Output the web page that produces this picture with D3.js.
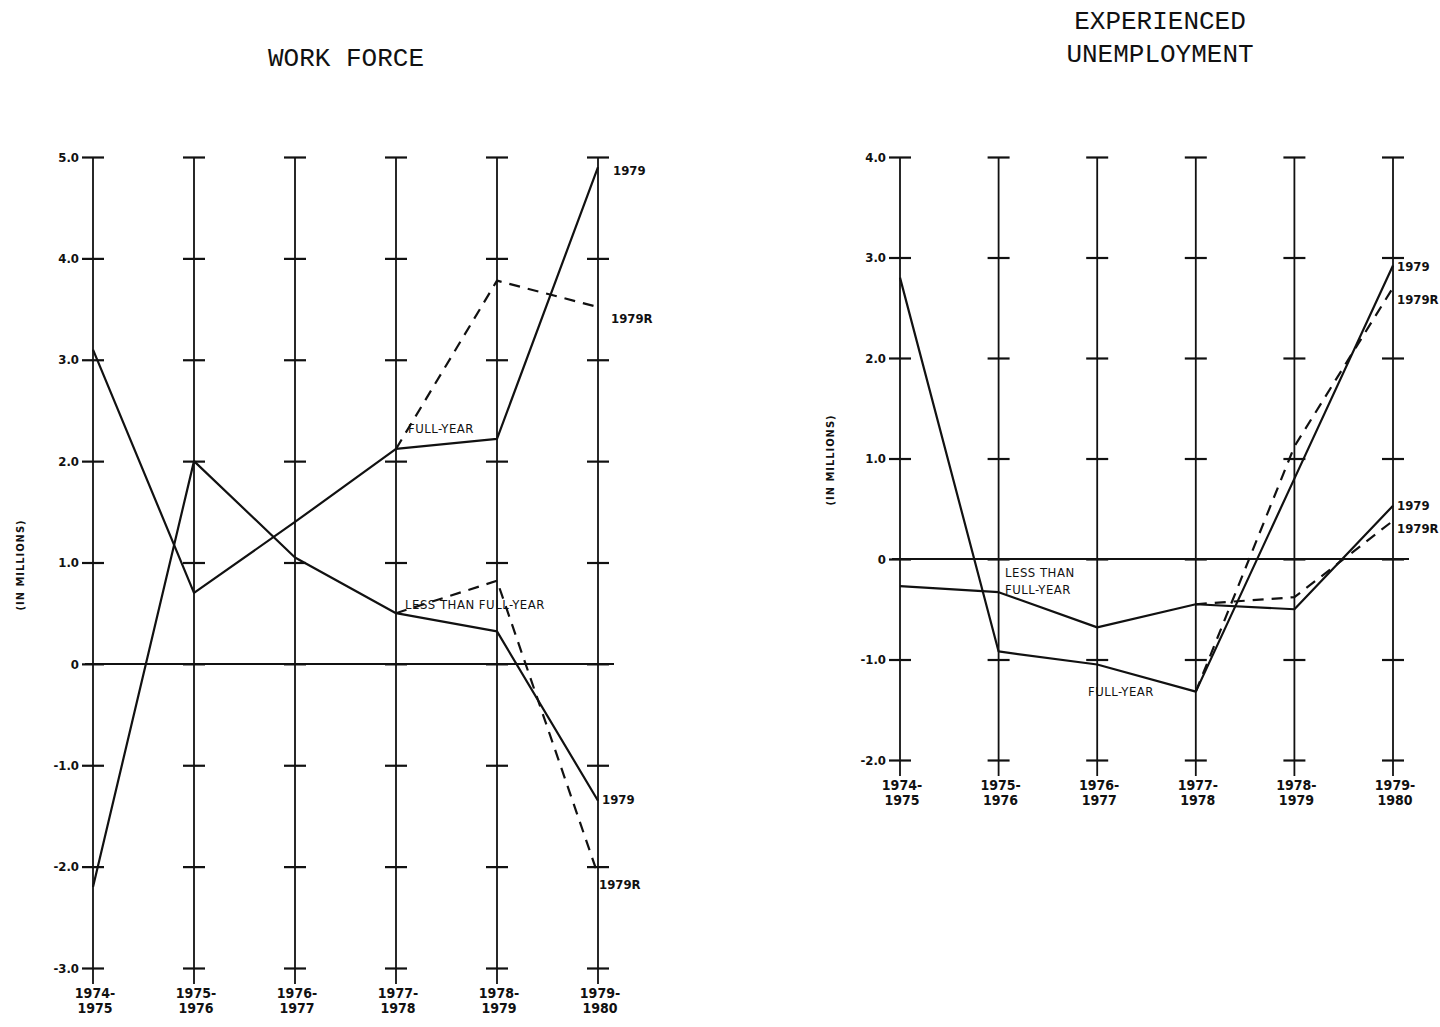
<!DOCTYPE html>
<html>
<head>
<meta charset="utf-8">
<script src="https://cdn.jsdelivr.net/npm/d3@7"></script>
<style>
  body { margin: 0; background: #fff; }
  svg { display: block; }
  text { fill: #111; }
</style>
</head>
<body>
<svg id="chart" width="1440" height="1027"></svg>
<script>
// periods shared by both panels
const periods = ['1974-1975', '1975-1976', '1976-1977', '1977-1978', '1978-1979', '1979-1980'];

// Work force (millions)
const wfTicks = [-3, -2, -1, 0, 1, 2, 3, 4, 5];
const wfFullYear = [3.1, 0.7, 1.4, 2.12, 2.22, 4.9];
const wfFullYearR = [null, null, null, 2.12, 3.78, 3.52];
const wfLessThan = [-2.2, 2.0, 1.05, 0.5, 0.32, -1.35];
const wfLessThanR = [null, null, null, 0.5, 0.82, -2.08];

// Experienced unemployment (millions)
const unTicks = [-2, -1, 0, 1, 2, 3, 4];
const unFullYear = [2.8, -0.92, -1.05, -1.32, 0.8, 2.92];
const unFullYearR = [null, null, null, -1.32, 1.12, 2.7];
const unLessThan = [-0.27, -0.33, -0.68, -0.45, -0.5, 0.53];
const unLessThanR = [null, null, null, -0.45, -0.38, 0.38];

const svg = d3.select('#chart');
const labelFont = '"DejaVu Sans Condensed", "DejaVu Sans", sans-serif';
const titleFont = '"Liberation Mono", "DejaVu Sans Mono", monospace';

function drawPanel(cfg) {
  const x = d3.scalePoint().domain(periods).range(cfg.xRange);
  const y = d3.scaleLinear().domain(d3.extent(cfg.ticks)).range(cfg.yRange);
  const g = svg.append('g');

  // vertical period lines
  g.selectAll('line.period')
    .data(periods)
    .join('line')
    .attr('class', 'period')
    .attr('x1', (d) => x(d))
    .attr('x2', (d) => x(d))
    .attr('y1', y(d3.max(cfg.ticks)))
    .attr('y2', y(d3.min(cfg.ticks)) + 16)
    .attr('stroke', '#111')
    .attr('stroke-width', 1.8);

  // crossbar ticks on every period line
  periods.forEach((p) => {
    const a = g.append('g').attr('transform', `translate(${x(p)},0)`);
    a.call(d3.axisLeft(y).tickValues(cfg.ticks).tickSize(0).tickSizeOuter(0).tickFormat(''));
    a.select('.domain').remove();
    a.selectAll('.tick line').attr('x1', -11).attr('x2', 11).attr('stroke', '#111').attr('stroke-width', 2.2);
  });

  // value labels on the first line
  const lab = g.append('g').attr('transform', `translate(${x(periods[0]) - 12},0)`);
  lab.call(d3.axisLeft(y).tickValues(cfg.ticks).tickSize(0).tickPadding(2)
    .tickFormat((d) => (d === 0 ? '0' : d.toFixed(1))));
  lab.select('.domain').remove();
  lab.selectAll('text')
    .attr('font-family', labelFont)
    .attr('font-weight', 700)
    .attr('font-size', 13)
    .attr('fill', '#111');

  // zero line
  g.append('line')
    .attr('x1', x(periods[0]) - 8)
    .attr('x2', x(periods[periods.length - 1]) + 16)
    .attr('y1', y(0))
    .attr('y2', y(0))
    .attr('stroke', '#111')
    .attr('stroke-width', 2);

  // period labels
  const pl = g.selectAll('text.period')
    .data(periods)
    .join('text')
    .attr('class', 'period')
    .attr('text-anchor', 'middle')
    .attr('font-family', labelFont)
    .attr('font-weight', 700)
    .attr('font-size', 14)
    .attr('transform', (d) => `translate(${x(d) + 2},${y(d3.min(cfg.ticks)) + cfg.periodGap})`);
  pl.append('tspan').attr('x', 0).attr('dy', 0).text((d) => d.split('-')[0] + '-');
  pl.append('tspan').attr('x', 0).attr('dy', 15).text((d) => d.split('-')[1]);

  // y axis title
  g.append('text')
    .attr('transform', `translate(${cfg.unitX},${cfg.unitY}) rotate(-90)`)
    .attr('text-anchor', 'middle')
    .attr('font-family', labelFont)
    .attr('font-weight', 700)
    .attr('font-size', 11)
    .attr('letter-spacing', 1)
    .text('(IN MILLIONS)');

  // title
  const t = g.append('text')
    .attr('text-anchor', 'middle')
    .attr('font-family', titleFont)
    .attr('font-size', 26);
  cfg.title.forEach((line, i) => {
    t.append('tspan').attr('x', cfg.titleX).attr('y', cfg.titleY + i * 33).text(line);
  });

  // series
  const line = d3.line()
    .defined((d) => d !== null)
    .x((d, i) => x(periods[i]))
    .y((d) => y(d));

  cfg.series.forEach((s) => {
    g.append('path')
      .datum(s.values)
      .attr('d', line)
      .attr('fill', 'none')
      .attr('stroke', '#111')
      .attr('stroke-width', 2.2)
      .attr('stroke-linejoin', 'round')
      .attr('stroke-dasharray', s.dashed ? '11,8' : null);
  });

  // annotations
  cfg.notes.forEach((n) => {
    const tx = g.append('text')
      .attr('font-family', labelFont)
      .attr('font-weight', n.bold ? 700 : 400)
      .attr('font-size', n.size || 13)
      .attr('letter-spacing', n.spacing || 0);
    n.text.split('\n').forEach((l, i) => {
      tx.append('tspan').attr('x', n.x).attr('y', n.y + i * 17).text(l);
    });
  });
}

drawPanel({
  xRange: [93, 598],
  yRange: [968, 157],
  ticks: wfTicks,
  periodGap: 30,
  unitX: 24,
  unitY: 565,
  title: ['WORK FORCE'],
  titleX: 346,
  titleY: 66,
  series: [
    { values: wfFullYear },
    { values: wfLessThan },
    { values: wfFullYearR, dashed: true },
    { values: wfLessThanR, dashed: true }
  ],
  notes: [
    { text: '1979', x: 613, y: 175, bold: true },
    { text: '1979R', x: 611, y: 323, bold: true },
    { text: 'FULL-YEAR', x: 408, y: 433, size: 13, spacing: 0.5 },
    { text: 'LESS THAN FULL-YEAR', x: 405, y: 609, size: 13, spacing: 0.5 },
    { text: '1979', x: 602, y: 804, bold: true },
    { text: '1979R', x: 599, y: 889, bold: true }
  ]
});

drawPanel({
  xRange: [900, 1393],
  yRange: [760, 157],
  ticks: unTicks,
  periodGap: 30,
  unitX: 834,
  unitY: 460,
  title: ['EXPERIENCED', 'UNEMPLOYMENT'],
  titleX: 1160,
  titleY: 29,
  series: [
    { values: unFullYear },
    { values: unLessThan },
    { values: unFullYearR, dashed: true },
    { values: unLessThanR, dashed: true }
  ],
  notes: [
    { text: '1979', x: 1397, y: 271, bold: true },
    { text: '1979R', x: 1397, y: 304, bold: true },
    { text: '1979', x: 1397, y: 510, bold: true },
    { text: '1979R', x: 1397, y: 533, bold: true },
    { text: 'LESS THAN\nFULL-YEAR', x: 1005, y: 577, size: 13, spacing: 0.5 },
    { text: 'FULL-YEAR', x: 1088, y: 696, size: 13, spacing: 0.5 }
  ]
});
</script>
</body>
</html>
